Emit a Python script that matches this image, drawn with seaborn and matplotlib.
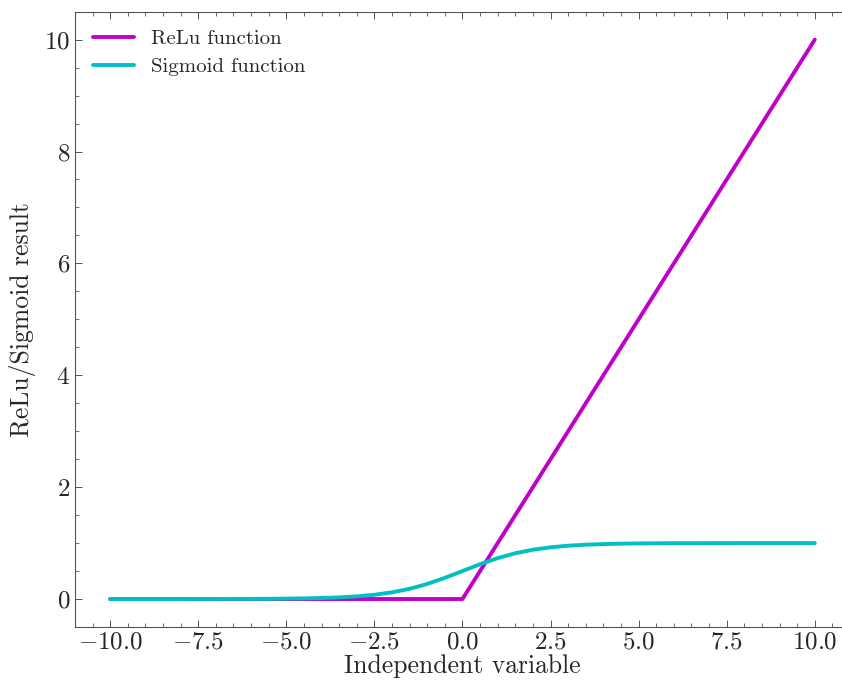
import numpy as np
import pandas as pd
import matplotlib
matplotlib.use('Agg')
import matplotlib.pyplot as plt
import seaborn as sns
from matplotlib.ticker import MultipleLocator

# values
relu_x = [-10.0, 0.0, 10.0]
relu_y = [0.0, 0.0, 10.0]

sig_x = [-10.0, -9.5, -9.0, -8.5, -8.0, -7.5, -7.0, -6.5, -6.0, -5.5, -5.0,
         -4.5, -4.0, -3.5, -3.0, -2.5, -2.0, -1.5, -1.0, -0.5, 0.0,
         0.5, 1.0, 1.5, 2.0, 2.5, 3.0, 3.5, 4.0, 4.5, 5.0,
         5.5, 6.0, 6.5, 7.0, 7.5, 8.0, 8.5, 9.0, 9.5, 10.0]
sig_y = [0.000, 0.000, 0.000, 0.000, 0.000, 0.001, 0.001, 0.002, 0.002, 0.004, 0.007,
         0.011, 0.018, 0.029, 0.047, 0.076, 0.119, 0.182, 0.269, 0.378, 0.500,
         0.622, 0.731, 0.818, 0.881, 0.924, 0.953, 0.971, 0.982, 0.989, 0.993,
         0.996, 0.998, 0.998, 0.999, 0.999, 1.000, 1.000, 1.000, 1.000, 1.000]

relu = pd.DataFrame({'x': relu_x, 'y': relu_y})
sig = pd.DataFrame({'x': sig_x, 'y': sig_y})

sns.set_style('ticks')
plt.rcParams['font.family'] = ['cmr10', 'DejaVu Serif']
plt.rcParams['mathtext.fontset'] = 'cm'
plt.rcParams['axes.formatter.use_mathtext'] = True
plt.rcParams['axes.unicode_minus'] = True

fig = plt.figure(figsize=(8.42, 6.88), dpi=100)
# the plot area runs a little past the right edge of the picture
ax = fig.add_axes([0.089, 0.0887, 0.9205, 0.8943])

sns.lineplot(data=relu, x='x', y='y', color='#c000c8', lw=2.8, label='ReLu function', ax=ax)
sns.lineplot(data=sig, x='x', y='y', color='#00c0c2', lw=2.8, label='Sigmoid function', ax=ax)

ax.set_xlim(-11, 11)
ax.set_ylim(-0.5, 10.5)
ax.xaxis.set_major_locator(MultipleLocator(2.5))
ax.xaxis.set_minor_locator(MultipleLocator(0.5))
ax.yaxis.set_major_locator(MultipleLocator(2))
ax.yaxis.set_minor_locator(MultipleLocator(0.5))
ax.tick_params(which='both', direction='in', top=True, right=False, labelsize=18, color='#555555')
ax.tick_params(which='major', length=5, width=0.7)
ax.tick_params(which='minor', length=3, width=0.6)
for s in ax.spines.values():
    s.set_linewidth(0.8)
    s.set_color('#555555')
ax.spines['right'].set_visible(False)

ax.set_xlabel('Independent variable', fontsize=18.5, labelpad=0)
ax.set_ylabel('ReLu/Sigmoid result', fontsize=18.5, labelpad=6)
ax.legend(loc='upper left', frameon=False, fontsize=15, handlelength=2.0,
          borderaxespad=0.45, labelspacing=0.45)

fig.savefig('out.png', dpi=100)
